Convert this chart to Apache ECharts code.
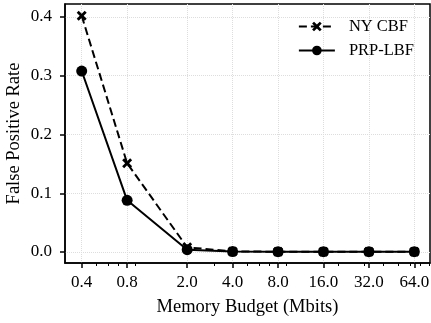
<!DOCTYPE html>
<html>
<head>
<meta charset="utf-8">
<script src="https://cdn.jsdelivr.net/npm/echarts@6/dist/echarts.min.js"></script>
<style>
  html, body { margin: 0; padding: 0; background: #fff; }
</style>
</head>
<body>
<div id="myChart" style="width: 431px; height: 323px"></div>
<script>
// memory budget in Mbits (x axis is log scaled)
const budgets = [0.4, 0.8, 2.0, 4.0, 8.0, 16.0, 32.0, 64.0];
const nyCbf = [0.402, 0.151, 0.008, 0.001, 0.0005, 0.0005, 0.0005, 0.0005];
const prpLbf = [0.308, 0.088, 0.004, 0.0008, 0.0005, 0.0005, 0.0005, 0.0005];
const yTicks = [0.0, 0.1, 0.2, 0.3, 0.4];
const xTicks = [0.4, 0.8, 2.0, 4.0, 8.0, 16.0, 32.0, 64.0];
const xMinorTicks = [0.5, 0.6, 0.7, 0.9, 3, 5, 6, 7, 9, 20, 30, 40, 50, 60, 70, 80];

const FONT = '"Liberation Serif", "DejaVu Serif", serif';
const lg = (v) => Math.log2(v);

const myChartDrawer = echarts.init(document.getElementById('myChart'));
const xMin = lg(0.31);
const xMax = lg(81.3);

const option = {
  animation: false,
  textStyle: { fontFamily: FONT },
  grid: {
    left: 65,
    right: 1,
    top: 4,
    bottom: 60,
    outerBoundsMode: 'none',
    containLabel: false,
    show: true,
    borderColor: '#000',
    borderWidth: 1.5,
  },
  legend: {
    orient: 'vertical',
    right: 12,
    top: 13,
    itemWidth: 36,
    itemHeight: 12,
    itemGap: 7,
    textStyle: { fontFamily: FONT, fontSize: 16.5, color: '#000', padding: [0, 0, 0, 9] },
    data: ['NY CBF', 'PRP-LBF'],
  },
  xAxis: [
    {
      type: 'value',
      min: xMin,
      max: xMax,
      name: 'Memory Budget (Mbits)',
      nameLocation: 'middle',
      nameGap: 35,
      nameMoveOverlap: false,
      nameTextStyle: { fontFamily: FONT, fontSize: 18.5, color: '#000' },
      axisLine: { show: true, onZero: false, lineStyle: { color: '#000', width: 1.5 } },
      axisTick: {
        show: true,
        length: 5,
        lineStyle: { color: '#000', width: 1.5 },
        customValues: xTicks.map(lg),
      },
      axisLabel: {
        margin: 11,
        fontFamily: FONT,
        fontSize: 17,
        color: '#000',
        customValues: xTicks.map(lg),
        formatter: (v) => Math.pow(2, v).toFixed(1),
      },
      splitLine: { show: true, lineStyle: { color: '#ddd', type: 'dotted', width: 1 } },
    },
    {
      // minor ticks only
      type: 'value',
      min: xMin,
      max: xMax,
      position: 'bottom',
      axisLine: { show: false, onZero: false },
      axisTick: {
        show: true,
        length: 3,
        lineStyle: { color: '#000', width: 1 },
        customValues: xMinorTicks.map(lg),
      },
      axisLabel: { show: false },
      splitLine: { show: false },
    },
  ],
  yAxis: {
    type: 'value',
    min: -0.0187,
    max: 0.4221,
    name: 'False Positive Rate',
    nameLocation: 'middle',
    nameGap: 41,
    nameMoveOverlap: false,
    nameTextStyle: { fontFamily: FONT, fontSize: 18.5, color: '#000' },
    axisLine: { show: true, onZero: false, lineStyle: { color: '#000', width: 1.5 } },
    axisTick: {
      show: true,
      length: 5,
      lineStyle: { color: '#000', width: 1.5 },
      customValues: yTicks,
    },
    axisLabel: {
      margin: 13,
      fontFamily: FONT,
      fontSize: 17,
      color: '#000',
      customValues: yTicks,
      formatter: (v) => v.toFixed(1),
    },
    splitLine: { show: true, lineStyle: { color: '#ddd', type: 'dotted', width: 1 } },
  },
  series: [
    {
      name: 'NY CBF',
      type: 'line',
      data: budgets.map((b, i) => [lg(b), nyCbf[i]]),
      symbol: 'path://M2,0L5,3L8,0L10,2L7,5L10,8L8,10L5,7L2,10L0,8L3,5L0,2Z',
      symbolSize: 10,
      itemStyle: { color: '#000' },
      lineStyle: { color: '#000', width: 2, type: [8, 4] },
      z: 2,
    },
    {
      name: 'PRP-LBF',
      type: 'line',
      data: budgets.map((b, i) => [lg(b), prpLbf[i]]),
      symbol: 'circle',
      symbolSize: 11,
      itemStyle: { color: '#000' },
      lineStyle: { color: '#000', width: 2 },
      z: 3,
    },
  ],
};
myChartDrawer.setOption(option);
</script>
</body>
</html>
